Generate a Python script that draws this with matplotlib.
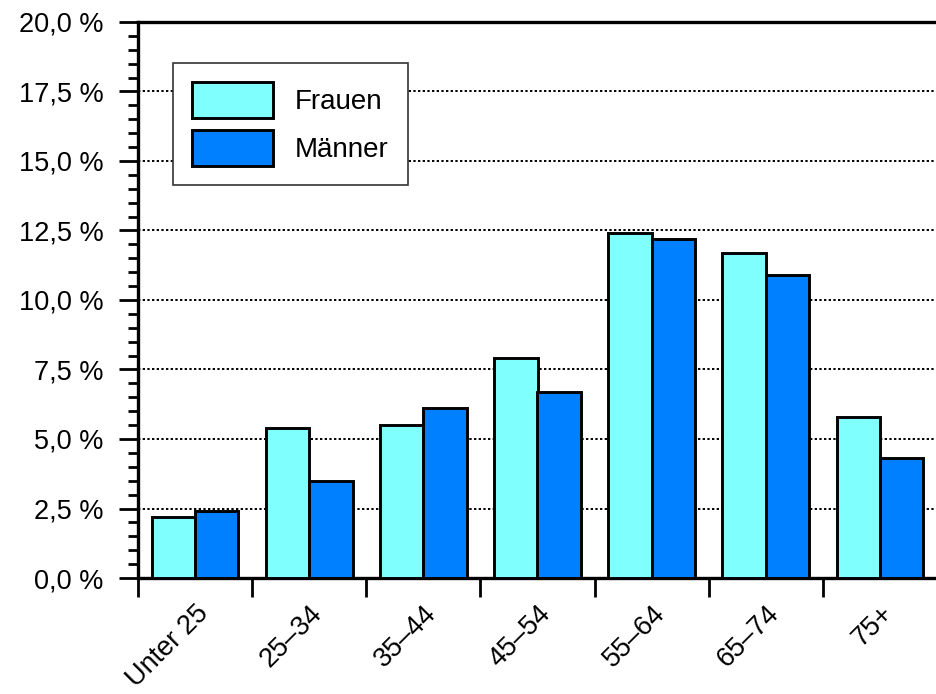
import numpy as np
import matplotlib.pyplot as plt
from matplotlib.ticker import MultipleLocator, FuncFormatter

plt.rcParams['font.family'] = ['Liberation Sans', 'DejaVu Sans']

altersgruppen = ['Unter 25', '25–34', '35–44', '45–54', '55–64', '65–74', '75+']
frauen = [2.2, 5.4, 5.5, 7.9, 12.4, 11.7, 5.8]
maenner = [2.4, 3.5, 6.1, 6.7, 12.2, 10.9, 4.3]

farbe_frauen = '#80FFFF'
farbe_maenner = '#0080FF'

fig = plt.figure(figsize=(9.37, 6.94), dpi=100)
links, unten, oben = 138 / 937, 116 / 694, 22 / 694
ax = fig.add_axes([links, unten, 1 - links, 1 - oben - unten])

x = np.arange(len(altersgruppen))
breite = 0.38
ax.bar(x - breite / 2, frauen, breite, color=farbe_frauen, edgecolor='black',
       linewidth=2.1, label='Frauen', zorder=3)
ax.bar(x + breite / 2, maenner, breite, color=farbe_maenner, edgecolor='black',
       linewidth=2.1, label='Männer', zorder=3)

ax.set_ylim(0, 20)
ax.set_xlim(-0.5, -0.5 + (937 - 138) / 115.9)

# y-Achse
ax.yaxis.set_major_locator(MultipleLocator(2.5))
ax.yaxis.set_minor_locator(MultipleLocator(0.5))
ax.yaxis.set_major_formatter(FuncFormatter(lambda v, p: f'{v:.1f}'.replace('.', ',') + ' %'))
ax.tick_params(axis='y', which='major', length=14, width=2.0, pad=11, labelsize=19.5)
ax.tick_params(axis='y', which='minor', length=7, width=2.0)

# x-Achse: Striche an den Grenzen, Beschriftung in der Mitte
ax.set_xticks(np.arange(-0.5, 7, 1))
ax.set_xticklabels([])
ax.set_xticks(x, minor=True)
ax.set_xticklabels(altersgruppen, minor=True, rotation=45, ha='right',
                   va='top', rotation_mode='anchor', fontsize=19.5)
ax.tick_params(axis='x', which='major', length=14, width=2.0)
ax.tick_params(axis='x', which='minor', length=0, pad=16)

for s in ['left', 'bottom', 'top']:
    ax.spines[s].set_linewidth(2.4)
ax.spines['right'].set_visible(False)

ax.yaxis.grid(True, which='major', linestyle=(0, (1.2, 1.2)), color='black', linewidth=1.4, zorder=0)
ax.set_axisbelow(True)

leg = ax.legend(loc='upper left', bbox_to_anchor=(173 / 937, 1 - 63 / 694),
                bbox_transform=fig.transFigure, borderaxespad=0, fontsize=20,
                fancybox=False, framealpha=1, edgecolor='#333333',
                handlelength=2.9, handleheight=1.6, labelspacing=0.42,
                handletextpad=0.8, borderpad=0.7)
leg.get_frame().set_linewidth(1.2)
for h in leg.legend_handles:
    h.set_linewidth(2.1)

fig.savefig('out.png', dpi=100)
